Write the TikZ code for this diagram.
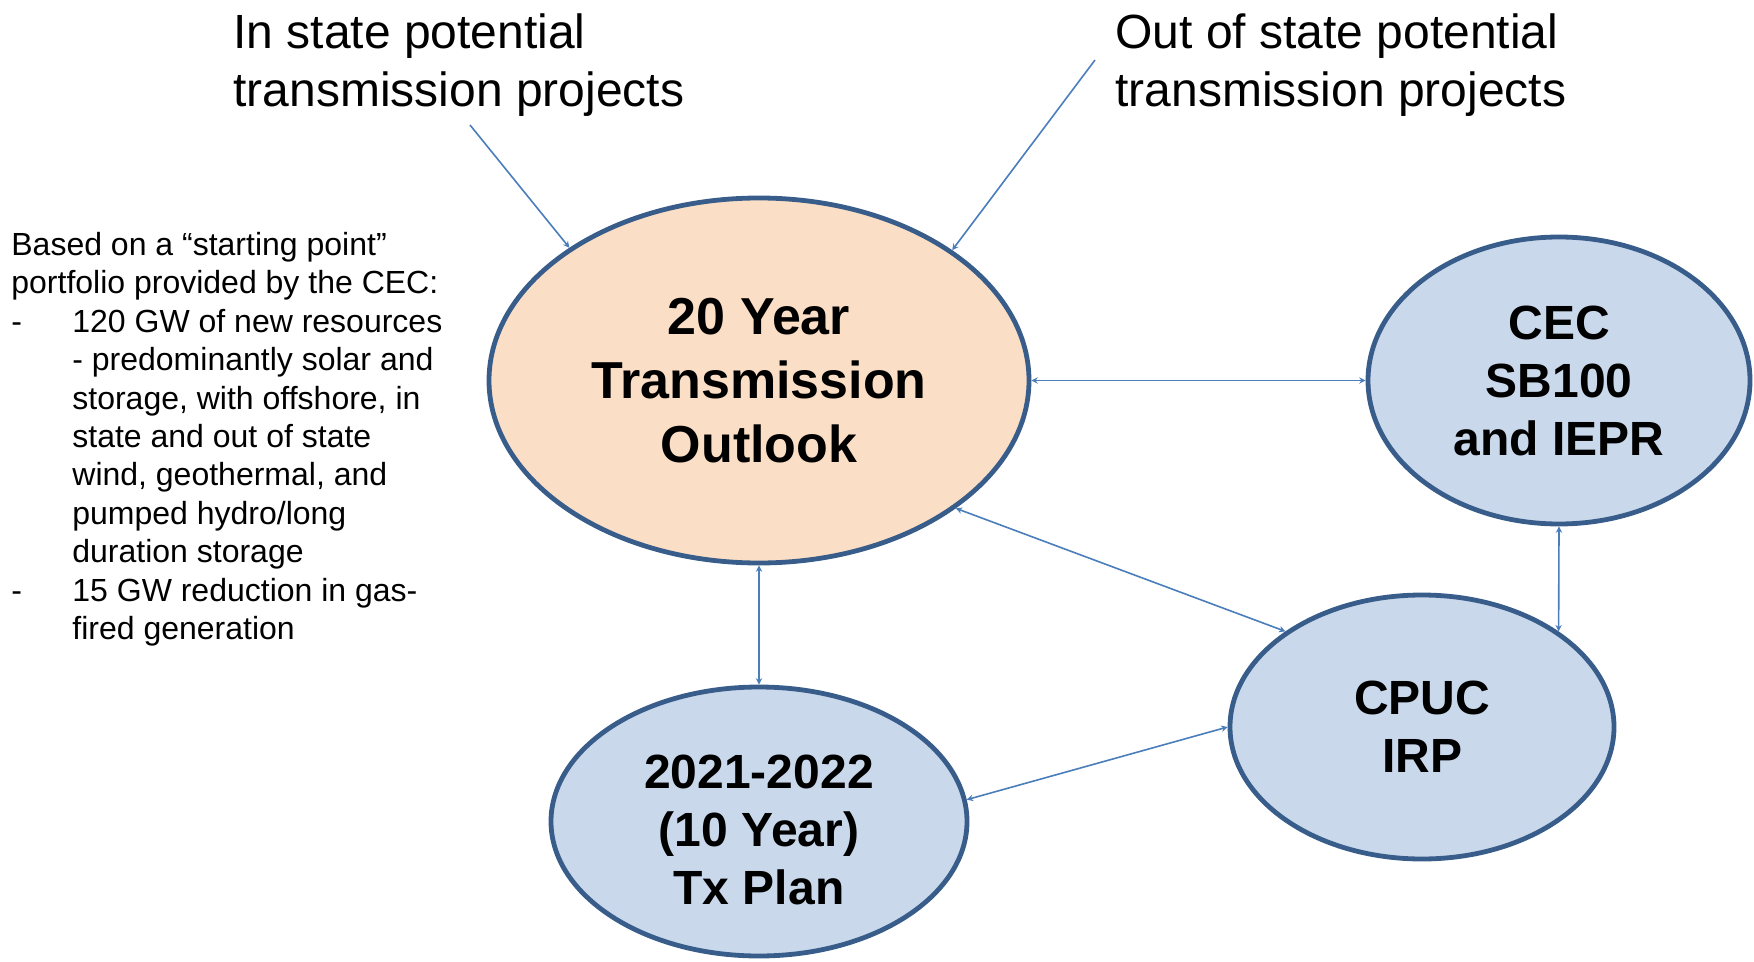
\documentclass[tikz,border=0pt]{standalone}
\usepackage{fontspec}
\setmainfont{Liberation Sans}
\usetikzlibrary{shapes.geometric,arrows.meta}

\definecolor{rim}{HTML}{385D8A}
\definecolor{peach}{HTML}{FBDEC6}
\definecolor{paleblue}{HTML}{C9D8EB}
\definecolor{link}{HTML}{4A7EBB}

\tikzset{
  bubble/.style={ellipse, draw=rim, line width=2.4pt, inner sep=0pt,
    align=center, font={\fontsize{24}{29}\selectfont\bfseries}},
  outlook/.style={bubble, fill=peach, font={\fontsize{26}{32}\selectfont\bfseries}},
  agency/.style={bubble, fill=paleblue},
  caption/.style={anchor=north west, align=left, inner sep=0pt,
    font={\fontsize{24}{29}\selectfont}},
  notes/.style={anchor=north west, align=left, inner sep=0pt,
    font={\fontsize{16}{19.2}\selectfont}},
  link/.style={draw=link, line width=0.8pt},
  tip/.tip={Stealth[length=3.2pt,width=3.2pt]},
  both/.style={link, tip-tip},
  into/.style={link, -tip}
}

\newcommand{\dashitem}{\makebox[30.5pt][l]{-}}
\newcommand{\indentitem}{\makebox[30.5pt][l]{}}

\begin{document}
\begin{tikzpicture}[x=0.5pt,y=-0.5pt]
  \useasboundingbox (0,0) rectangle (1754,962);

  % central study and the related planning processes
  \node[outlook, minimum width=270pt, minimum height=182.5pt] (outlook) at (759,380.5)
    {20 Year\\Transmission\\Outlook};
  \node[agency, minimum width=191pt, minimum height=143.5pt] (cec) at (1559,380.5)
    {CEC\\SB100\\and IEPR};
  \node[agency, minimum width=192pt, minimum height=132pt] (cpuc) at (1422,727)
    {CPUC\\IRP};
  \node[agency, minimum width=208pt, minimum height=134.5pt, text height=83pt] (txplan)
    at (759,821.5) {2021-2022\\(10 Year)\\Tx Plan};

  % inputs from above
  \node[caption] (instate) at (233,13) {In state potential\\transmission projects};
  \node[caption] (outstate) at (1115,13) {Out of state potential\\transmission projects};
  \coordinate (infrom) at (470,125);
  \coordinate (outfrom) at (1095,60);

  % portfolio notes
  \node[notes] (portfolio) at (11,232) {%
    Based on a “starting point”\\
    portfolio provided by the CEC:\\
    \dashitem 120 GW of new resources\\
    \indentitem - predominantly solar and\\
    \indentitem storage, with offshore, in\\
    \indentitem state and out of state\\
    \indentitem wind, geothermal, and\\
    \indentitem pumped hydro/long\\
    \indentitem duration storage\\
    \dashitem 15 GW reduction in gas-\\
    \indentitem fired generation};

  % connectors
  \draw[into] (infrom) -- (outlook.145.5);
  \draw[into] (outfrom) -- (outlook.34.6);
  \draw[both] (outlook.east) -- (cec.west);
  \draw[both] (outlook.-33.9) -- (cpuc.145.5);
  \draw[both] (outlook.south) -- (txplan.north);
  \draw[both] (txplan.6) -- (cpuc.west);
  \draw[both] (cec.south) -- (cpuc.35.3);
\end{tikzpicture}
\end{document}
